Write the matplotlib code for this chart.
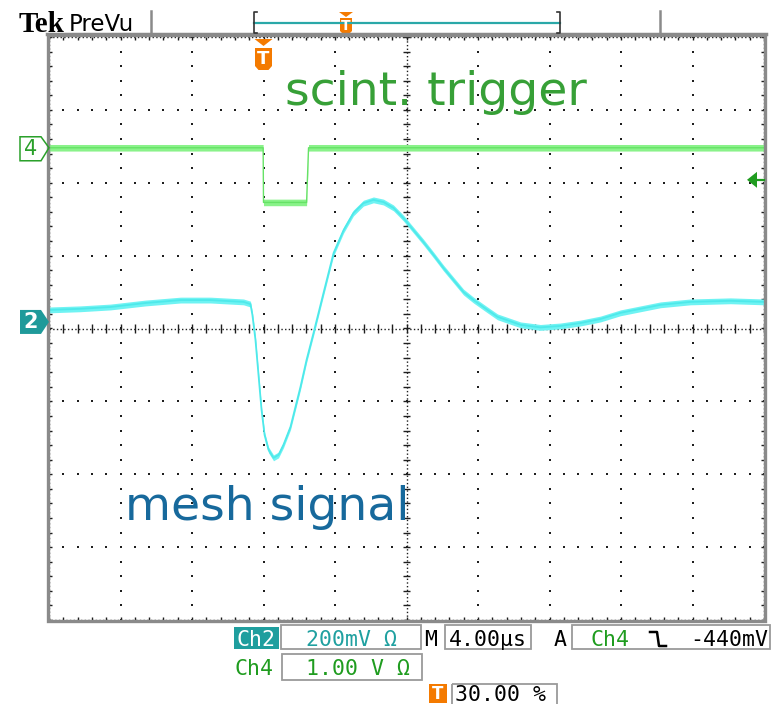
import numpy as np
import matplotlib.pyplot as plt
from matplotlib.patches import Polygon, Rectangle

# Tek scope screen: 4 us/div, trigger at 30 % of the record
t_left, t_right = -12.0, 28.0
t_div = 4.0

# Ch2 - mesh signal, 200 mV/div
ch2_scale = 200.0
ch2_pos = 0.09
ch2_t = [-12.0, -10.27, -8.56, -6.60, -4.64, -2.97, -1.12, -0.73, -0.62, -0.45,
         -0.28, -0.11, 0.06, 0.28, 0.56, 0.84, 1.12, 1.51, 2.07, 2.41,
         2.80, 3.36, 3.92, 4.48, 5.03, 5.59, 6.15, 6.71, 7.27, 7.83,
         8.39, 8.95, 9.51, 10.07, 10.63, 11.19, 11.75, 12.53, 13.09, 14.38,
         15.49, 16.61, 17.73, 18.85, 19.97, 21.09, 22.21, 23.88, 26.12, 28.0]
ch2_mv = [33, 36, 41, 52, 60, 60, 55, 49, 19, -49,
          -145, -241, -310, -351, -373, -365, -337, -288, -178, -104,
          -30, 80, 189, 252, 299, 326, 335, 329, 313, 285,
          252, 219, 184, 148, 115, 82, 60, 33, 14, -8,
          -15, -11, -3, 8, 25, 36, 47, 55, 58, 55]

# Ch4 - scintillator trigger, 1 V/div
ch4_scale = 1000.0
ch4_pos = 2.48
ch4_t = [-12.0, -0.02, 0.0, 2.41, 2.52, 28.0]
ch4_mv = [0, 0, -750, -750, 0, 0]
trig_level = -440.0
trig_t = 0.0

W, H = 774, 704
fig = plt.figure(figsize=(W / 100, H / 100), dpi=100)
fig.patch.set_facecolor('white')

ax = fig.add_axes([49 / W, 1 - 620 / H, 715 / W, 583 / H])
ax.set_xlim(t_left, t_right)
ax.set_ylim(-4, 4)
ax.axis('off')

dot = '#1e1e1e'

# graticule dots
for tx in np.arange(t_left + t_div, t_right, t_div):
    if tx == 8.0:
        continue
    yy = np.arange(-4, 4.001, 0.2)
    ax.scatter(np.full(len(yy), tx), yy, s=2.4, marker='s', color=dot, lw=0, zorder=1)
for gy in [-3, -2, -1, 1, 2, 3]:
    tt = np.arange(t_left, t_right + 0.001, 0.8)
    ax.scatter(tt, np.full(len(tt), gy), s=2.4, marker='s', color=dot, lw=0, zorder=1)

# centre cross with ticks
ax.axhline(0, ls=':', lw=1, color=dot, zorder=1)
ax.axvline(8.0, ls=':', lw=1, color=dot, zorder=1)
ax.vlines(np.arange(t_left, t_right + 0.001, 0.8), -0.055, 0.055, lw=1, color=dot, zorder=1)
ax.hlines(np.arange(-4, 4.001, 0.2), 8 - 0.22, 8 + 0.22, lw=1, color=dot, zorder=1)

# border ticks
tt = np.arange(t_left, t_right + 0.001, 0.8)
ax.vlines(tt, 4 - 0.045, 4, lw=1, color=dot, zorder=1)
ax.vlines(tt, -4, -4 + 0.045, lw=1, color=dot, zorder=1)
yy = np.arange(-4, 4.001, 0.2)
ax.hlines(yy, t_left, t_left + 0.17, lw=1, color=dot, zorder=1)
ax.hlines(yy, t_right - 0.17, t_right, lw=1, color=dot, zorder=1)
ax.plot([t_left, t_right, t_right, t_left, t_left], [4, 4, -4, -4, 4],
        ls=':', lw=1, color=dot, clip_on=False, zorder=1)

# traces
y2 = ch2_pos + np.array(ch2_mv) / ch2_scale
y4 = ch4_pos + np.array(ch4_mv) / ch4_scale
ax.fill_between(ch2_t, y2 - 0.04, y2 + 0.04, color='#6ff3f3', lw=0, zorder=3)
ax.plot(ch2_t, y2, color='#4ee9ea', lw=1.3, zorder=3)
ax.fill_between(ch4_t, y4 - 0.045, y4 + 0.045, color='#8af28a', lw=0, zorder=3)
ax.plot(ch4_t, y4, color='#66e266', lw=1.0, zorder=3)


def to_px(t, yd):
    X, Y = ax.transData.transform((t, yd))
    return X, H - Y


# overlay in pixel coordinates for the scope furniture
ov = fig.add_axes([0, 0, 1, 1])
ov.set_xlim(0, W)
ov.set_ylim(H, 0)
ov.axis('off')
ov.patch.set_alpha(0)

gray = '#8a8a8a'
ov.add_patch(Rectangle((47.5, 35), 717, 586, fill=False, ec=gray, lw=2.4))
ov.plot([47, 766], [34, 34], color=gray, lw=2.5)
ov.plot([151, 151], [11, 33], color=gray, lw=1.8)
ov.plot([660, 660], [11, 33], color=gray, lw=1.8)

ov.text(19, 32, 'Tek', fontsize=21, fontweight='bold', family='Liberation Serif', color='black')
ov.text(69, 31, 'PreVu', fontsize=16.5, family='DejaVu Sans', color='black')

# record bar with brackets
teal = '#2aa8a8'
ov.plot([254, 560], [23, 23], color=teal, lw=1.6)
ov.plot([257, 254, 254, 257], [12, 12, 33, 33], color='#333333', lw=1.2)
ov.plot([557, 560, 560, 557], [12, 12, 33, 33], color='#333333', lw=1.2)

orange = '#f47a00'
ov.add_patch(Polygon([(339, 12), (353, 12), (346, 17)], color=orange, lw=0))
ov.add_patch(Polygon([(340, 18), (352, 18), (352, 31), (350, 33), (342, 33), (340, 31)], color=orange, lw=0))
ov.text(346, 26, 'T', fontsize=10, fontweight='bold', color='white', ha='center', va='center')

# trigger position marker
tx, _ = to_px(trig_t, 0)
ov.add_patch(Polygon([(tx - 9, 39), (tx + 9, 39), (tx, 46)], color=orange, lw=0))
ov.add_patch(Polygon([(tx - 8.5, 48), (tx + 8.5, 48), (tx + 8.5, 66), (tx + 5, 70),
                      (tx - 5, 70), (tx - 8.5, 66)], color=orange, lw=0))
ov.text(tx, 59.5, 'T', fontsize=13, fontweight='bold', color='white', ha='center', va='center')

# channel ground markers
green = '#1f9c1f'
_, g4 = to_px(t_left, ch4_pos)
ov.add_patch(Polygon([(20, g4 - 11), (41, g4 - 11), (49, g4), (41, g4 + 13), (20, g4 + 13)],
                     fill=False, ec='#2aa02a', lw=1.1))
ov.text(31, g4 + 1.5, '4', fontsize=15, color='#2aa02a', ha='center', va='center')
_, g2 = to_px(t_left, ch2_pos)
ov.add_patch(Polygon([(20, g2 - 12), (41, g2 - 12), (49, g2), (41, g2 + 12), (20, g2 + 12)],
                     color='#1f9a9a', lw=0))
ov.text(31, g2, '2', fontsize=15, fontweight='bold', color='white', ha='center', va='center')

# trigger level arrow on the right
_, gl = to_px(t_right, ch4_pos + trig_level / ch4_scale)
ov.add_patch(Polygon([(747, gl), (757, gl - 8), (757, gl + 8)], color=green, lw=0))
ov.plot([756, 764], [gl, gl], color=green, lw=1.6)

ov.text(285, 105, 'scint. trigger', fontsize=34, color='#37a037', family='DejaVu Sans')
ov.text(125, 520, 'mesh signal', fontsize=34, color='#17699c', family='DejaVu Sans')

# status readout
mono = 'DejaVu Sans Mono'
box_ec = '#9a9a9a'
ov.add_patch(Rectangle((234, 627), 45, 22, color='#1f9e9e', lw=0))
ov.text(236, 646, 'Ch2', fontsize=15.5, family=mono, color='white')
ov.add_patch(Rectangle((281, 625), 140, 24, fill=False, ec=box_ec, lw=1.3))
ov.text(306, 646, '200mV Ω', fontsize=15.5, family=mono, color='#1fa0a0')
ov.text(424, 646, 'M', fontsize=15.5, family=mono, color='black')
ov.add_patch(Rectangle((445, 625), 86, 24, fill=False, ec=box_ec, lw=1.3))
ov.text(449, 646, '4.00µs', fontsize=15.5, family=mono, color='black')
ov.text(554, 646, 'A', fontsize=15.5, family=mono, color='black')
ov.add_patch(Rectangle((572, 625), 198, 24, fill=False, ec=box_ec, lw=1.3))
ov.text(591, 646, 'Ch4', fontsize=15.5, family=mono, color=green)
ov.plot([650, 657, 659, 666], [632, 632, 646, 646], color='black', lw=1.8)
ov.text(768, 646, '-440mV', fontsize=15.5, family=mono, color='black', ha='right')

ov.text(234, 675, 'Ch4', fontsize=15.5, family=mono, color=green)
ov.add_patch(Rectangle((282, 654), 140, 26, fill=False, ec=box_ec, lw=1.3))
ov.text(306, 675, '1.00 V Ω', fontsize=15.5, family=mono, color=green)

ov.add_patch(Rectangle((429, 684), 18, 19, color=orange, lw=0))
ov.text(438, 694, 'T', fontsize=12, fontweight='bold', color='white', ha='center', va='center')
ov.add_patch(Rectangle((452, 684), 105, 26, fill=False, ec=box_ec, lw=1.3, clip_on=False))
ov.text(455, 701, '30.00 %', fontsize=15.5, family=mono, color='black')

fig.savefig('out.png', dpi=100)
